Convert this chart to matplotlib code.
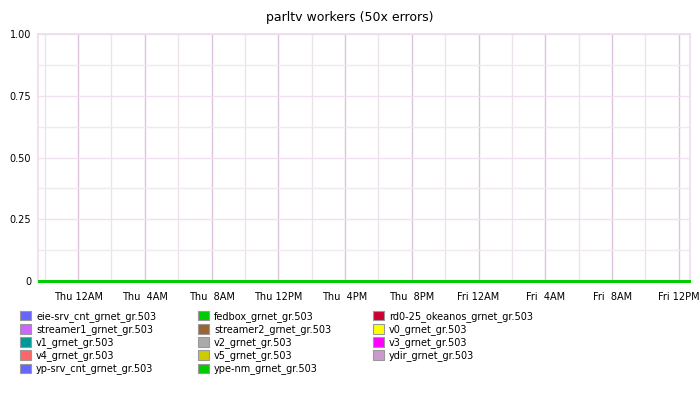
import numpy as np
import matplotlib.pyplot as plt
from matplotlib.patches import Rectangle
from matplotlib.ticker import FixedLocator, MultipleLocator

# series (legend order, row by row as in the picture)
names = ['eie-srv_cnt_grnet_gr.503', 'fedbox_grnet_gr.503', 'rd0-25_okeanos_grnet_gr.503',
         'streamer1_grnet_gr.503', 'streamer2_grnet_gr.503', 'v0_grnet_gr.503',
         'v1_grnet_gr.503', 'v2_grnet_gr.503', 'v3_grnet_gr.503',
         'v4_grnet_gr.503', 'v5_grnet_gr.503', 'ydir_grnet_gr.503',
         'yp-srv_cnt_grnet_gr.503', 'ype-nm_grnet_gr.503']
colors = ['#6666ff', '#00cc00', '#cc0033',
          '#cc66ff', '#996633', '#ffff00',
          '#009999', '#aaaaaa', '#ff00ff',
          '#ff6666', '#cccc00', '#cc99cc',
          '#6666ff', '#00cc00']

# time in hours from Thu 00:00
hours = [-2.4, 36.67]
values = {n: [0, 0] for n in names}

tick_hours = [0, 4, 8, 12, 16, 20, 24, 28, 32, 36]
tick_labels = ['Thu 12AM', 'Thu  4AM', 'Thu  8AM', 'Thu 12PM', 'Thu  4PM',
               'Thu  8PM', 'Fri 12AM', 'Fri  4AM', 'Fri  8AM', 'Fri 12PM']
minor_hours = [-2, 2, 6, 10, 14, 18, 22, 26, 30, 34]
y_ticks = [0, 0.25, 0.5, 0.75, 1.0]
y_labels = ['0', '0.25', '0.50', '0.75', '1.00']

fig = plt.figure(figsize=(7, 4), dpi=100)
ax = fig.add_axes([38 / 700, 119 / 400, 652 / 700, 247 / 400])

for n, c in zip(names, colors):
    ax.plot(hours, values[n], color=c, lw=0.9, clip_on=False, zorder=3,
            antialiased=False, solid_capstyle='butt')

ax.set_xlim(hours[0], hours[-1])
ax.set_ylim(0, 1)
ax.xaxis.set_major_locator(FixedLocator(tick_hours))
ax.xaxis.set_minor_locator(FixedLocator(minor_hours))
ax.set_xticklabels(tick_labels)
ax.set_yticks(y_ticks)
ax.set_yticklabels(y_labels)
ax.yaxis.set_minor_locator(MultipleLocator(0.125))
ax.tick_params(which='both', length=0, labelsize=7, colors='black')
ax.tick_params(axis='x', pad=8)
ax.tick_params(axis='y', pad=5)

ax.grid(which='major', axis='x', color='#dcc4dc', lw=1.0)
ax.grid(which='minor', axis='x', color='#ece2ec', lw=1.0)
ax.grid(which='major', axis='y', color='#f0e0f0', lw=1.0)
ax.grid(which='minor', axis='y', color='#eeeaee', lw=1.0)
ax.set_axisbelow(True)
for s in ['top', 'right', 'left']:
    ax.spines[s].set_color('#ecdcec')
    ax.spines[s].set_linewidth(1.2)
ax.spines['bottom'].set_visible(False)

fig.suptitle('parltv workers (50x errors)', x=0.5, y=1 - 17 / 400, va='center', fontsize=9)

# legend, column-major order for matplotlib
order = [0, 3, 6, 9, 12, 1, 4, 7, 10, 13, 2, 5, 8, 11]
handles = [Rectangle((0, 0), 1, 1, facecolor=colors[i], edgecolor='#999999', lw=0.8) for i in order]
labels = [names[i] for i in order]
fig.legend(handles, labels, ncol=3, loc='upper left', bbox_to_anchor=(20 / 700, 1 - 311 / 400),
           frameon=False, fontsize=7, borderpad=0, borderaxespad=0,
           handlelength=1.15, handleheight=1.1, handletextpad=0.5,
           labelspacing=0.23, columnspacing=4.3)

fig.savefig('out.png', dpi=100)
